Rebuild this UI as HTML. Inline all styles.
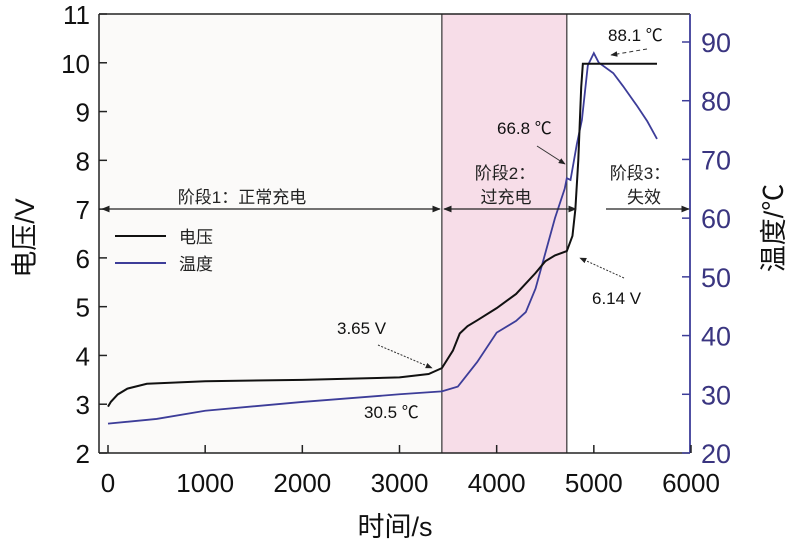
<!DOCTYPE html>
<html><head><meta charset="utf-8"><style>
html,body{margin:0;padding:0;background:#fff;}
body{position:relative;width:793px;height:543px;overflow:hidden}
svg{display:block;font-family:"Liberation Sans","Noto Sans CJK SC",sans-serif;}
</style></head><body>
<svg id="chart" width="793" height="543" viewBox="0 0 793 543" style="position:absolute;left:0;top:0">
<defs>
<marker id="a2" viewBox="0 0 10 10" refX="9" refY="5" markerWidth="7" markerHeight="7" orient="auto-start-reverse"><path d="M0,1 L10,5 L0,9 z" fill="#222"/></marker>
</defs>
<g id="bg"></g>
<g id="marks"></g>
<g id="axes"></g>
<text transform="translate(34,238) rotate(-90)" text-anchor="middle" font-size="27" fill="#111">电压/V</text>
<text transform="translate(783,228) rotate(-90)" text-anchor="middle" font-size="27" fill="#111">温度/℃</text>
<text x="395" y="536" text-anchor="middle" font-size="27" fill="#111">时间/s</text>
<g stroke="#222" stroke-width="1.2">
<line x1="102" y1="209" x2="440" y2="209" marker-start="url(#a2)" marker-end="url(#a2)"/>
<line x1="444" y1="209" x2="576" y2="209" marker-start="url(#a2)" marker-end="url(#a2)"/>
<line x1="606" y1="209" x2="689" y2="209" marker-end="url(#a2)"/>
</g>
<text x="242" y="203" text-anchor="middle" font-size="17" fill="#222">阶段1：正常充电</text>
<text x="505" y="179" text-anchor="middle" font-size="17" fill="#222">阶段2：</text>
<text x="506" y="203" text-anchor="middle" font-size="17" fill="#222">过充电</text>
<text x="640" y="179" text-anchor="middle" font-size="17" fill="#222">阶段3：</text>
<text x="644" y="203" text-anchor="middle" font-size="17" fill="#222">失效</text>
<g>
<line x1="115" y1="236" x2="166" y2="236" stroke="#111" stroke-width="2"/>
<text x="179" y="243" font-size="17" fill="#222">电压</text>
<line x1="115" y1="263" x2="166" y2="263" stroke="#3d3d99" stroke-width="2"/>
<text x="179" y="270" font-size="17" fill="#222">温度</text>
</g>
<g font-size="17" fill="#111">
<text x="337" y="334">3.65 V</text>
<text x="364" y="418">30.5 ℃</text>
<text x="497" y="134">66.8 ℃</text>
<text x="592" y="304">6.14 V</text>
<text x="608" y="41">88.1 ℃</text>
</g>
<g stroke="#333" stroke-width="1" fill="none">
<line x1="378" y1="345" x2="432" y2="368" stroke-dasharray="2,1.5" marker-end="url(#a2)"/>
<line x1="537" y1="146" x2="565" y2="164" marker-end="url(#a2)"/>
<line x1="624" y1="278" x2="580" y2="258" stroke-dasharray="2,1.5" marker-end="url(#a2)"/>
<line x1="647" y1="49" x2="611" y2="55" stroke-dasharray="4,3" marker-end="url(#a2)"/>
</g>
</svg>
<script>
const timeV = [0,30,100,200,400,1000,2000,3000,3300,3436,3550,3620,3700,3800,4000,4200,4400,4500,4600,4722,4780,4810,4840,4870,4887,5300,5650];
const voltage = [2.95,3.05,3.2,3.32,3.42,3.47,3.5,3.55,3.62,3.74,4.1,4.45,4.6,4.72,4.97,5.26,5.69,5.93,6.05,6.14,6.45,7.0,8.0,9.5,9.98,9.98,9.98];
const timeT = [0,500,1000,2000,3000,3436,3600,3800,4000,4200,4300,4400,4500,4600,4700,4722,4760,4825,4877,4938,5000,5050,5200,5300,5450,5550,5650];
const temperature = [25,25.8,27.2,28.7,30,30.5,31.3,35.5,40.5,42.5,44,48,54,60,65,66.8,66.5,72.6,76.7,86,88.1,86.5,84.7,82.5,79,76.5,73.5];
const xTicks = [0,1000,2000,3000,4000,5000,6000];
const yTicks = [2,3,4,5,6,7,8,9,10,11];
const y2Ticks = [20,30,40,50,60,70,80,90];
const stageBounds = [3436,4722];

const L=99,R=690,T=14,B=453;
const xs=t=>108+t*(691-108)/6000;
const ys=v=>B-(v-2)*(B-T)/9;
const ys2=c=>B-(c-20)*(B-42)/70;
const NS="http://www.w3.org/2000/svg";
function mk(tag,attrs,parent,text){const e=document.createElementNS(NS,tag);for(const k in attrs)e.setAttribute(k,attrs[k]);if(text!==undefined)e.textContent=text;parent.appendChild(e);return e;}
const bg=document.getElementById('bg'),marks=document.getElementById('marks'),axes=document.getElementById('axes');

let r1=mk('rect',{x:L,y:T,width:xs(stageBounds[0])-L,height:B-T,fill:'#fbfaf9'},bg);


let r2=mk('rect',{x:xs(stageBounds[0]),y:T,width:xs(stageBounds[1])-xs(stageBounds[0]),height:B-T,fill:'#f7dde8'},bg);


stageBounds.forEach((s,i)=>{let l=mk('line',{x1:xs(s),x2:xs(s),y1:T,y2:B,stroke:'#333','stroke-width':1.2},bg);

});

let pT=mk('polyline',{points:timeT.map((t,i)=>xs(t)+','+ys2(temperature[i])).join(' '),fill:'none',stroke:'#3d3d99','stroke-width':1.8},marks);


let pV=mk('polyline',{points:timeV.map((t,i)=>xs(t)+','+ys(voltage[i])).join(' '),fill:'none',stroke:'#111','stroke-width':2},marks);



mk('line',{x1:L,y1:T,x2:R,y2:T,stroke:'#222','stroke-width':1.5},axes);
mk('line',{x1:L,y1:T,x2:L,y2:B,stroke:'#222','stroke-width':1.5},axes);
mk('line',{x1:L,y1:B,x2:R,y2:B,stroke:'#222','stroke-width':1.5},axes);
mk('line',{x1:R,y1:T,x2:R,y2:B,stroke:'#3d3d99','stroke-width':1.8},axes);
xTicks.forEach(t=>{mk('line',{x1:xs(t),x2:xs(t),y1:B,y2:B-8,stroke:'#222','stroke-width':1.5},axes);
let tx=mk('text',{x:xs(t),y:B+39,'text-anchor':'middle','font-size':26,fill:'#111'},axes,t);

});
yTicks.forEach(v=>{mk('line',{x1:L,x2:L+8,y1:ys(v),y2:ys(v),stroke:'#222','stroke-width':1.5},axes);
let tx=mk('text',{x:L-9,y:ys(v)+10,'text-anchor':'end','font-size':26,fill:'#111'},axes,v);

});
y2Ticks.forEach(v=>{mk('line',{x1:R,x2:R-8,y1:ys2(v),y2:ys2(v),stroke:'#3d3d99','stroke-width':1.5},axes);
let tx=mk('text',{x:R+11,y:ys2(v)+10,'font-size':27,fill:'#3a3580'},axes,v);

});
</script>
</body></html>
